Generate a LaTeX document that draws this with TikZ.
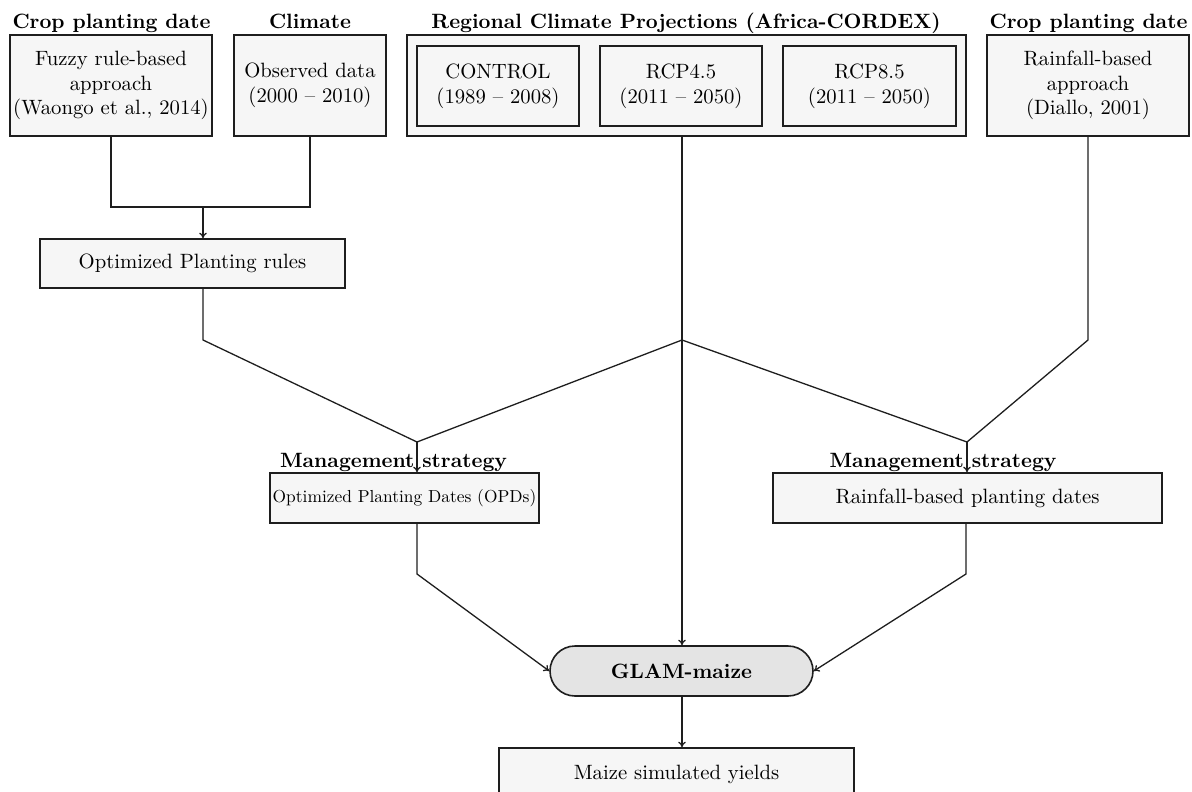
\documentclass[tikz,border=0pt]{standalone}
\usepackage{fontspec}
\setmainfont{lmroman10}[Extension=.otf, UprightFont=*-regular, BoldFont=*-bold, ItalicFont=*-italic, BoldItalicFont=*-bolditalic]
\usetikzlibrary{arrows.meta,shapes.misc}
\definecolor{boxfill}{HTML}{F6F6F6}
\definecolor{glamfill}{HTML}{E4E4E4}
\definecolor{edge}{HTML}{1E1E1E}
\tikzset{
  every node/.style={font=\fontsize{20.7}{24.7}\selectfont},
  box/.style={draw=edge, fill=boxfill, line width=1.6pt, inner sep=0pt, align=center},
  lab/.style={anchor=base, inner sep=0pt, font=\fontsize{20.7}{24.7}\selectfont\bfseries},
  conn/.style={draw=edge, line width=1.3pt},
  arr/.style={conn, -{To[length=5.5pt,width=7.5pt]}},
}
\begin{document}
\begin{tikzpicture}[x=1pt,y=-1pt]
\useasboundingbox (0,0) rectangle (1192,792);
% top labels
\node[lab] (l1) at (111.5,29) {Crop planting date};
\node[lab] (l2) at (310,29) {Climate};
\node[lab] (l3) at (686,29) {Regional Climate Projections (Africa-CORDEX)};
\node[lab] (l4) at (1088.5,29) {Crop planting date};
% top boxes
\node[box, minimum width=202pt, minimum height=101pt] (fuzzy) at (111,85.5) {Fuzzy rule-based\\approach\\(Waongo et al., 2014)};
\node[box, minimum width=152pt, minimum height=101pt] (obs) at (310,85.5) {Observed data\\(2000 -- 2010)};
\node[box, minimum width=559pt, minimum height=101pt] (rcm) at (686.5,85.5) {};
\node[box, minimum width=162pt, minimum height=80pt] (ctrl) at (498,86) {CONTROL\\(1989 -- 2008)};
\node[box, minimum width=162pt, minimum height=80pt] (r45) at (681,86) {RCP4.5\\(2011 -- 2050)};
\node[box, minimum width=173pt, minimum height=80pt] (r85) at (869.5,86) {RCP8.5\\(2011 -- 2050)};
\node[box, minimum width=202pt, minimum height=101pt] (rain) at (1088,85.5) {Rainfall-based\\approach\\(Diallo, 2001)};
% middle boxes
\node[box, minimum width=305pt, minimum height=49pt] (opr) at (192.5,263.5) {Optimized Planting rules};
\node[lab] (ms1) at (393.5,467) {Management strategy};
\node[lab] (ms2) at (943,467) {Management strategy};
\node[box, minimum width=269pt, minimum height=50pt, font=\fontsize{17.4}{20}\selectfont] (opd) at (404.5,498) {Optimized Planting Dates (OPDs)};
\node[box, minimum width=389pt, minimum height=50pt] (rpd) at (967.5,498) {Rainfall-based planting dates};
\node[box, fill=glamfill, rounded rectangle, minimum width=263pt, minimum height=50pt, font=\fontsize{20.7}{24.7}\selectfont\bfseries] (glam) at (681.5,671) {GLAM-maize};
\node[box, minimum width=355pt, minimum height=52pt] (maize) at (676.5,774) {Maize simulated yields};
% junction coordinates
\coordinate (j1) at (203,207);
\coordinate (j2) at (203,340);
\coordinate (c) at (682,340);
\coordinate (r1) at (1088,340);
\coordinate (m1) at (417,442);
\coordinate (m2) at (967,442);
\coordinate (b1) at (417,574);
\coordinate (b2) at (966,574);
% connectors
\draw[conn] (fuzzy.south) |- (j1) -| (obs.south);
\draw[arr] (j1) -- (j1 |- opr.north);
\draw[conn] (j2 |- opr.south) -- (j2) -- (m1);
\draw[conn] (c) -- (m1);
\draw[conn] (c) -- (m2);
\draw[conn] (rain.south) -- (r1) -- (m2);
\draw[arr] (m1) -- (m1 |- opd.north);
\draw[arr] (m2) -- (m2 |- rpd.north);
\draw[arr] (c |- rcm.south) -- (c |- glam.north);
\draw[arr] (b1 |- opd.south) -- (b1) -- (glam.west);
\draw[arr] (b2 |- rpd.south) -- (b2) -- (glam.east);
\draw[arr] (c |- glam.south) -- (c |- maize.north);
\end{tikzpicture}
\end{document}
